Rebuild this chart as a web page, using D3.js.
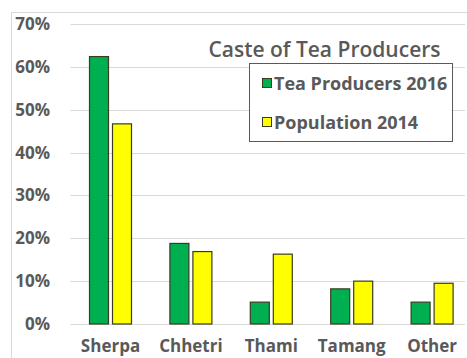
<!DOCTYPE html>
<html>
<head>
<meta charset="utf-8">
<script src="https://cdn.jsdelivr.net/npm/d3@7"></script>
<style>
  html, body { margin: 0; padding: 0; background: #fff; }
  svg { display: block; }
  text { font-family: "Open Sans", sans-serif; fill: #595959; }
</style>
</head>
<body>
<svg id="chart" width="467" height="358"></svg>
<script>
const categories = ["Sherpa", "Chhetri", "Thami", "Tamang", "Other"];
const seriesNames = ["Tea Producers 2016", "Population 2014"];
const teaProducers2016 = [0.624, 0.188, 0.051, 0.082, 0.051];
const population2014 = [0.467, 0.169, 0.163, 0.100, 0.095];
const yTicks = [0, 0.1, 0.2, 0.3, 0.4, 0.5, 0.6, 0.7];
const colors = ["#00B050", "#FFFF00"];
const title = "Caste of Tea Producers";

const svg = d3.select("#chart");
const W = 467, H = 358;

// frame
svg.append("rect").attr("x", 11.5).attr("y", 12.5).attr("width", W + 10).attr("height", H + 10)
  .attr("fill", "#fff").attr("stroke", "#d9d9d9").attr("stroke-width", 1);

const y = d3.scaleLinear().domain([0, 0.7]).range([324, 24]);
const x0 = d3.scaleBand().domain(categories).range([70.3, 472.3]).paddingInner(0).paddingOuter(0);
const x1 = d3.scaleBand().domain(seriesNames).range([x0.bandwidth() / 2 - 21, x0.bandwidth() / 2 + 21]).paddingInner(4 / 23).paddingOuter(0);

// gridlines
svg.append("g").selectAll("line").data(yTicks).join("line")
  .attr("x1", 70.5).attr("x2", 465)
  .attr("y1", d => Math.round(y(d)) + 0.5).attr("y2", d => Math.round(y(d)) + 0.5)
  .attr("stroke", "#d9d9d9").attr("stroke-width", 1.2);

// y axis labels
const yAxis = d3.axisLeft(y).tickValues(yTicks).tickFormat(d3.format(".0%")).tickSize(0).tickPadding(0);
const yg = svg.append("g").attr("transform", "translate(50,0)").call(yAxis);
yg.select(".domain").remove();
yg.selectAll("text").attr("font-size", 17).attr("font-weight", 700)
  .style("font-family", "'Open Sans', sans-serif").attr("fill", "#595959");

// bars
const data = categories.map((c, i) => ({ cat: c, vals: [teaProducers2016[i], population2014[i]] }));
const groups = svg.append("g").selectAll("g").data(data).join("g")
  .attr("transform", d => `translate(${x0(d.cat)},0)`);
groups.selectAll("rect").data(d => d.vals.map((v, j) => ({ s: seriesNames[j], v, j }))).join("rect")
  .attr("x", d => x1(d.s))
  .attr("width", x1.bandwidth())
  .attr("y", d => y(d.v))
  .attr("height", d => y(0) - y(d.v))
  .attr("fill", d => colors[d.j])
  .attr("stroke", "#3b3b22").attr("stroke-width", 1.2);

// x axis labels
const xAxis = d3.axisBottom(x0).tickSize(0).tickPadding(0);
const xg = svg.append("g").attr("transform", "translate(0,340)").call(xAxis);
xg.select(".domain").remove();
xg.selectAll("text").attr("font-size", 17).attr("font-weight", 700)
  .style("font-family", "'Open Sans', sans-serif").attr("fill", "#595959")
  .attr("dy", "0.71em");

// title
svg.append("text").attr("x", 324.5).attr("y", 57).attr("text-anchor", "middle")
  .attr("font-size", 21).attr("font-weight", 600).text(title);

// legend
const lg = svg.append("g");
lg.append("rect").attr("x", 249.5).attr("y", 63.5).attr("width", 203).attr("height", 78)
  .attr("fill", "#fff").attr("stroke", "#595959").attr("stroke-width", 1);
const ly = [83, 122];
seriesNames.forEach((s, i) => {
  lg.append("rect").attr("x", 262.5).attr("y", ly[i] - 4.5).attr("width", 9).attr("height", 9)
    .attr("fill", colors[i]).attr("stroke", "#3b3b22").attr("stroke-width", 1);
  lg.append("text").attr("x", 274).attr("y", ly[i] + 6.5).attr("font-size", 18).attr("font-weight", 700).text(s);
});
</script>
</body>
</html>
